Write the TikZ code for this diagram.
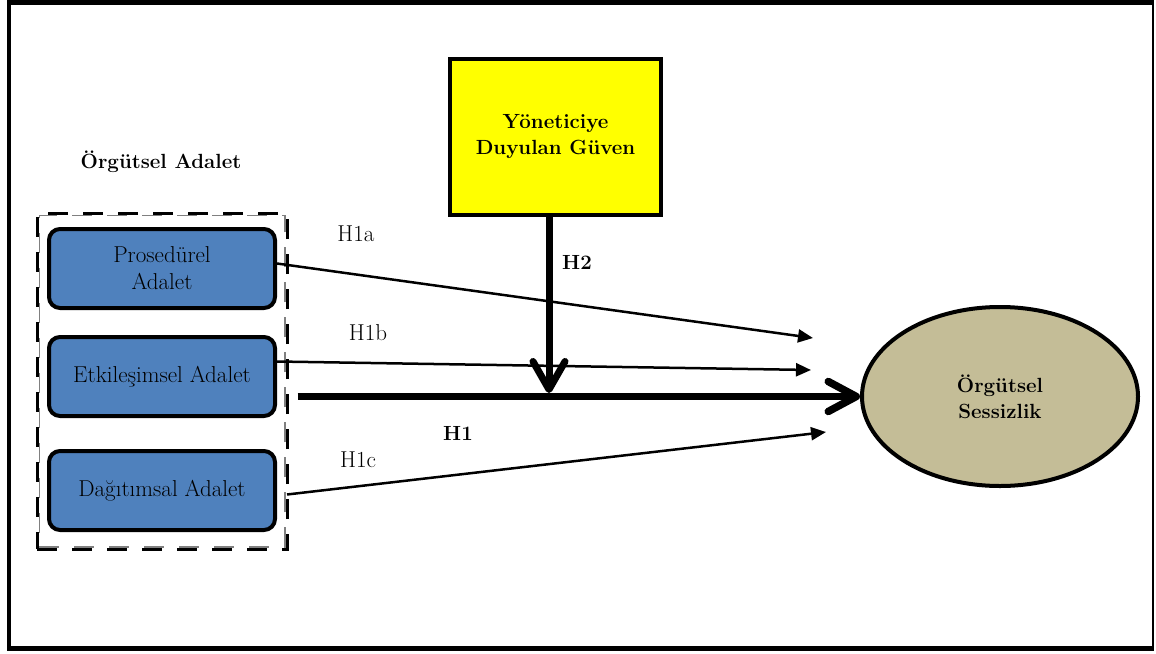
\documentclass[tikz,border=0pt]{standalone}
\usepackage{fontspec}
\usetikzlibrary{arrows.meta,shapes.geometric}
\definecolor{boxblue}{HTML}{4F81BD}
\definecolor{tan}{HTML}{C4BD97}
\definecolor{yel}{HTML}{FFFF00}
\tikzset{
  txt/.style={font=\fontsize{23}{27}\selectfont, align=center, inner sep=0pt},
  btxt/.style={font=\fontsize{20.5}{26}\selectfont\bfseries, align=center, inner sep=0pt},
  jbox/.style={draw, line width=4pt, fill=boxblue, rounded corners=11pt,
    minimum width=226pt, minimum height=79pt, txt},
  thin arrow/.style={line width=2.5pt, -{Triangle[length=15pt,width=13pt]}},
  thick arrow/.style={line width=7.5pt, -{Straight Barb[length=28pt,width=30pt,round]}},
}
\begin{document}
\begin{tikzpicture}[x=1pt,y=-1pt]
\useasboundingbox (0,0) rectangle (1156,653);
% outer frame
\draw[line width=4pt] (9,1) -- (9,650);
\draw[line width=5pt] (7,2.5) -- (1154,2.5);
\draw[line width=5pt] (7,648.5) -- (1154,648.5);
\draw[line width=2pt] (1153,0) -- (1153,651);
% group
\node[btxt] (title) at (161,162) {Örgütsel Adalet};
\node[draw, line width=3pt, dash pattern=on 20pt off 15pt, minimum width=250pt, minimum height=336pt, inner sep=0pt] (grp) at (162,381) {};
\node[draw=gray, line width=1.5pt, dash pattern=on 20pt off 15pt, minimum width=245.5pt, minimum height=331.5pt, inner sep=0pt] (grpin) at (162,381) {};
\node[jbox] (pa) at (162,268.5) {Prosedürel\\Adalet};
\node[jbox] (eb) at (162,376.5) {Etkileşimsel Adalet};
\node[jbox] (db) at (162,490.5) {Dağıtımsal Adalet};
% moderator
\node[draw, line width=4pt, fill=yel, minimum width=211pt, minimum height=156pt, btxt] (ydg) at (555.5,137) {Yöneticiye\\Duyulan Güven};
% outcome
\node[ellipse, draw, line width=4pt, fill=tan, minimum width=276pt, minimum height=179pt, btxt] (os) at (1000,396.5) {Örgütsel\\Sessizlik};
% free ends
\coordinate (ta) at (813,338);
\coordinate (tb) at (811,370);
\coordinate (tc) at (826,432);
\path ([xshift=9pt]grp.east) coordinate (gE);
\coordinate (h1s) at (gE |- os.west);
% connectors
\draw[thin arrow] ([yshift=5pt]pa.east) -- (ta);
\draw[thin arrow] ([yshift=15pt]eb.east) -- (tb);
\draw[thin arrow] ([xshift=10pt,yshift=-4pt]db.east) -- (tc);
\draw[thick arrow] (h1s) -- (os.west);
\path ([xshift=-6.5pt]ydg.south) coordinate (yS);
\coordinate (h2e) at (yS |- 0,393);
\draw[line width=7pt, -{Straight Barb[length=28pt,width=32pt,round]}] (yS) -- (h2e);
% labels
\node[txt] (l1a) at (356,234) {H1a};
\node[txt] (l1b) at (368,333) {H1b};
\node[txt] (l1c) at (358,460) {H1c};
\node[btxt] (l2) at (577,262) {H2};
\node[btxt] (l1) at (458,433) {H1};
\end{tikzpicture}
\end{document}
